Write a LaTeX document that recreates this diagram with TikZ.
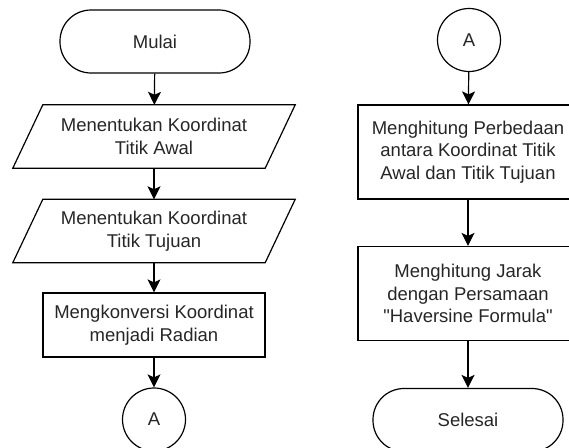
\documentclass[tikz,border=0pt]{standalone}
\usepackage{fontspec}
\setmainfont{Liberation Sans}
\usetikzlibrary{arrows.meta,calc}
\begin{document}
\begin{tikzpicture}[x=1pt,y=-1pt,
  every node/.style={font=\fontsize{18.5}{22.5}\selectfont, text=black!85, align=center, inner sep=0pt},
  outline/.style={draw=black, line width=1.2pt},
  terminal/.style={outline, rounded corners=31pt, minimum width=190pt, minimum height=63pt},
  process/.style={outline, minimum width=222pt, minimum height=64pt},
  bigprocess/.style={outline, minimum width=220pt, minimum height=94pt},
  connector/.style={outline, circle, minimum size=63pt},
  iobox/.style={minimum width=252pt, minimum height=63pt},
  flow/.style={draw=black, line width=1.2pt, -{Stealth[length=13pt, width=13pt, inset=3pt]}}
]
\useasboundingbox (0,0) rectangle (569,447);
\clip (0,0) rectangle (569,447);

% left column
\node[terminal] (mulai) at (155,41.5) {Mulai};
\node[iobox] (awal) at (154,136.5) {Menentukan Koordinat\\Titik Awal};
\node[iobox] (tujuan) at (154,231) {Menentukan Koordinat\\Titik Tujuan};
\node[process] (konversi) at (154,325) {Mengkonversi Koordinat\\menjadi Radian};
\node[connector] (offA) at (154,419.5) {A};

% parallelogram outlines for the input boxes
\foreach \n in {awal,tujuan}{
  \draw[outline] ($(\n.north west)+(15,0)$) -- ($(\n.north east)+(15,0)$)
    -- ($(\n.south east)+(-15,0)$) -- ($(\n.south west)+(-15,0)$) -- cycle;
}

% right column
\node[connector] (onA) at (469,40) {A};
\node[bigprocess] (beda) at (468,152) {Menghitung Perbedaan\\antara Koordinat Titik\\Awal dan Titik Tujuan};
\node[bigprocess] (jarak) at (468,293.5) {Menghitung Jarak\\dengan Persamaan\\\textquotedbl Haversine Formula\textquotedbl};
\node[terminal] (selesai) at (468,420) {Selesai};

% connectors
\draw[flow] (mulai) -- (awal);
\draw[flow] (awal) -- (tujuan);
\draw[flow] (tujuan) -- (konversi);
\draw[flow] (konversi) -- (offA);
\draw[flow] (onA) -- (beda);
\draw[flow] (beda) -- (jarak);
\draw[flow] (jarak) -- (selesai);
\end{tikzpicture}
\end{document}
